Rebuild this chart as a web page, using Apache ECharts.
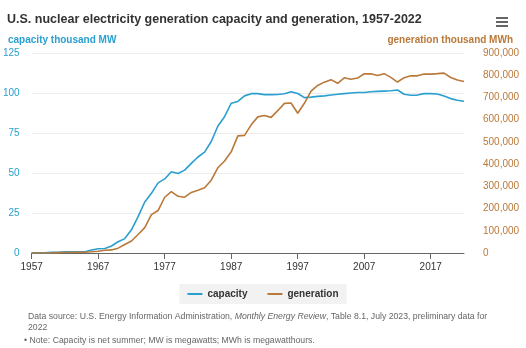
<!DOCTYPE html>
<html>
<head>
<meta charset="utf-8">
<script src="https://cdn.jsdelivr.net/npm/echarts@6/dist/echarts.min.js"></script>
<style>
html,body{margin:0;padding:0;background:#fff;}
#c{width:526px;height:348px;}
</style>
</head>
<body>
<div id="c"></div>
<script>
var years = [];
for (var y = 1957; y <= 2022; y++) years.push(String(y));

var capacity = [0.06,0.06,0.06,0.41,0.41,0.68,0.81,0.81,0.79,1.9,2.7,2.8,4.4,7.0,9.0,14.5,22.7,31.9,37.3,43.8,46.3,50.8,49.7,51.8,56.0,60.0,63.0,69.7,79.4,85.2,93.6,94.7,98.2,99.6,99.6,99.0,99.0,99.1,99.5,100.8,99.7,97.1,97.4,97.9,98.2,98.7,99.2,99.6,100.0,100.3,100.3,100.8,101.0,101.2,101.4,101.9,99.2,98.6,98.7,99.6,99.6,99.4,98.1,96.5,95.5,94.8];

var generation = [10,165,188,518,1692,2270,3212,3343,3657,5520,7655,12528,13928,21804,38105,54091,83479,113976,172505,191104,250883,276403,255155,251116,272674,282773,293677,327634,383691,414038,455270,526973,529355,576862,612565,618776,610291,640440,673402,674729,628644,673702,728254,753893,768826,780064,763733,788528,781986,787219,806425,806208,798855,806968,790204,769331,789016,797166,797178,805694,804950,807084,809409,789879,778152,771537];

var leftTicks = [0,25,50,75,100,125];
var rightTicks = [0,100000,200000,300000,400000,500000,600000,700000,800000,900000];

var BLUE = '#2a9fd0';
var BROWN = '#b9793a';
var FONT = 'Liberation Sans';

var chart = echarts.init(document.getElementById('c'), null, {renderer:'canvas'});
chart.setOption({
  animation:false,
  textStyle:{fontFamily:FONT},
  title:[
    {text:'U.S. nuclear electricity generation capacity and generation, 1957-2022', left:2, top:8,
     textStyle:{fontSize:12.5, fontWeight:'bold', color:'#333', fontFamily:FONT}},
    {text:'capacity thousand MW', left:3, top:30,
     textStyle:{fontSize:10, fontWeight:'bold', color:BLUE, fontFamily:FONT}},
    {text:'generation thousand MWh', right:8, top:30,
     textStyle:{fontSize:10, fontWeight:'bold', color:BROWN, fontFamily:FONT}}
  ],
  legend:{
    data:['capacity','generation'], left:'center', top:284,
    backgroundColor:'#f2f2f2', padding:[5,8,5,8], itemGap:20,
    itemWidth:15, itemHeight:2, icon:'rect',
    textStyle:{fontSize:10, fontWeight:'bold', color:'#333', fontFamily:FONT}
  },
  grid:{left:30, right:62, top:53, bottom:95, containLabel:false},
  xAxis:{
    type:'category', data:years, boundaryGap:false,
    axisLine:{lineStyle:{color:'#666', width:1}},
    axisTick:{interval:9, length:6, lineStyle:{color:'#666'}},
    axisLabel:{interval:9, color:'#333', fontSize:10, margin:9, fontFamily:FONT},
    splitLine:{show:false}
  },
  yAxis:[
    {type:'value', min:0, max:125, interval:25, position:'left',
     axisLine:{show:false}, axisTick:{show:false},
     axisLabel:{color:BLUE, fontSize:10, margin:12, fontFamily:FONT},
     splitLine:{lineStyle:{color:'#ececec'}}},
    {type:'value', min:0, max:900000, interval:100000, position:'right',
     axisLine:{show:false}, axisTick:{show:false},
     axisLabel:{color:BROWN, fontSize:10, margin:19, fontFamily:FONT,
       formatter:function(v){return v.toLocaleString('en-US');}},
     splitLine:{show:false}}
  ],
  series:[
    {name:'capacity', type:'line', data:capacity, yAxisIndex:0, showSymbol:false,
     lineStyle:{color:BLUE, width:1.6}, itemStyle:{color:BLUE}},
    {name:'generation', type:'line', data:generation, yAxisIndex:1, showSymbol:false,
     lineStyle:{color:BROWN, width:1.6}, itemStyle:{color:BROWN}}
  ],
  graphic:[
    {type:'rect', shape:{x:496,y:17,width:12,height:2}, style:{fill:'#666'}},
    {type:'rect', shape:{x:496,y:21,width:12,height:2}, style:{fill:'#666'}},
    {type:'rect', shape:{x:496,y:25,width:12,height:2}, style:{fill:'#666'}},
    {type:'text', left:28, top:311, style:{
      text:'Data source: U.S. Energy Information Administration, {i|Monthly Energy Review}, Table 8.1, July 2023, preliminary data for\n2022',
      font:'8.7px "Liberation Sans"', fill:'#666', lineHeight:11,
      rich:{i:{fontStyle:'italic', fontSize:8.7, fill:'#666', fontFamily:FONT}}}},
    {type:'text', left:24, top:336, style:{
      text:'\u2022 Note: Capacity is net summer; MW is megawatts; MWh is megawatthours.',
      font:'8.7px "Liberation Sans"', fill:'#666'}}
  ]
});
</script>
</body>
</html>
